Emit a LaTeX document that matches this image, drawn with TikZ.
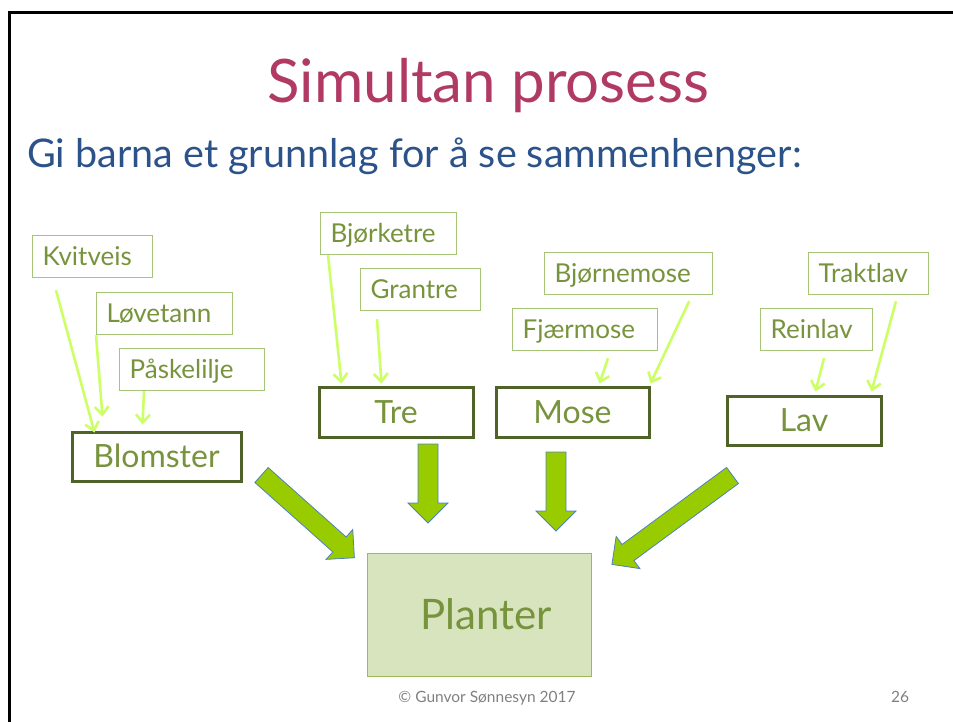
\documentclass[tikz,border=0pt]{standalone}
\usepackage{fontspec}
\setmainfont{Lato}
\usetikzlibrary{arrows.meta}

\definecolor{titlered}{RGB}{176,58,100}
\definecolor{subblue}{RGB}{44,82,138}
\definecolor{leafgreen}{RGB}{119,147,60}
\definecolor{leafline}{RGB}{166,196,120}
\definecolor{groupline}{RGB}{79,98,40}
\definecolor{plantfill}{RGB}{215,228,189}
\definecolor{plantline}{RGB}{155,187,89}
\definecolor{blockfill}{RGB}{153,204,0}
\definecolor{blockline}{RGB}{79,129,189}
\definecolor{twig}{RGB}{204,255,102}

\tikzset{
  leaf/.style={draw=leafline, line width=1.2pt, anchor=north west, minimum height=42pt,
    inner xsep=10pt, align=left, text=leafgreen, font=\fontsize{26}{28}\selectfont,
    text height=18.5pt, text depth=0pt},
  group/.style={draw=groupline, line width=3pt, minimum height=49pt, text=leafgreen,
    font=\fontsize{32}{34}\selectfont, text height=22.5pt, text depth=0pt},
  twigarrow/.style={draw=twig, line width=2.6pt, -{Straight Barb[length=8pt,width=14pt]}},
  bigarrow/.style={fill=blockfill, draw=blockline, line width=0.8pt, line join=miter},
}

\newcommand{\blockarrow}[3]{%
  \begin{scope}[shift={#1}, rotate=#2]
    \draw[bigarrow] (0,-10) -- ({#3-20},-10) -- ({#3-20},-20) -- (#3,0)
      -- ({#3-20},20) -- ({#3-20},10) -- (0,10) -- cycle;
  \end{scope}}

\begin{document}
\begin{tikzpicture}[x=1pt, y=-1pt]
    \useasboundingbox (0,0) rectangle (953,722);

    % Slide frame
    \draw[line width=3pt, black] (9,724) -- (9,13) -- (955,13);

    % Headings
    \node[anchor=base, text=titlered, font=\fontsize{60}{70}\selectfont] (title) at (488.5,103) {Simultan prosess};
    \node[anchor=base west, text=subblue, font=\fontsize{39.5}{44}\selectfont, inner sep=0pt] (subtitle) at (27,168) {Gi barna et grunnlag for å se sammenhenger:};

    % Kinds of plants
    \node[leaf, text width=100pt] (kvitveis) at (32,235) {Kvitveis};
    \node[leaf, text width=116pt] (lovetann) at (96,292) {Løvetann};
    \node[leaf, text width=125pt] (paskelilje) at (119,348) {Påskelilje};
    \node[leaf, text width=116pt] (bjorketre) at (320,212) {Bjørketre};
    \node[leaf, text width=100pt] (grantre) at (360,268) {Grantre};
    \node[leaf, text width=148pt] (bjornemose) at (544,252) {Bjørnemose};
    \node[leaf, text width=125pt] (fjaermose) at (512,308) {Fjærmose};
    \node[leaf, text width=100pt] (traktlav) at (808,252) {Traktlav};
    \node[leaf, text width=92pt] (reinlav) at (760,308) {Reinlav};

    % Groups
    \node[group, minimum width=169pt] (blomster) at (156.5,456.5) {Blomster};
    \node[group, minimum width=154pt, minimum height=50pt] (tre) at (396,412) {Tre};
    \node[group, minimum width=153pt, minimum height=50pt] (mose) at (572.5,412) {Mose};
    \node[group, minimum width=154pt] (lav) at (804,420.5) {Lav};

    \node[draw=plantline, fill=plantfill, line width=1pt, minimum width=224pt, minimum height=123pt,
      text=leafgreen, font=\fontsize{42}{46}\selectfont, text height=30pt, text depth=0pt] (planter) at (479.5,614.5) {\hspace*{14pt}Planter};

    % Thin arrows into the groups
    \draw[twigarrow] ([shift={(24,12)}]kvitveis.south west) -- ([shift={(24,2)}]blomster.north west);
    \draw[twigarrow] (lovetann.south west) -- ([shift={(32,-14)}]blomster.north west);
    \draw[twigarrow] ([shift={(25,0)}]paskelilje.south west) -- ([shift={(72,-6)}]blomster.north west);
    \draw[twigarrow] ([shift={(8,0)}]bjorketre.south west) -- ([shift={(24,-2)}]tre.north west);
    \draw[twigarrow] ([shift={(17,8)}]grantre.south west) -- ([shift={(64,-2)}]tre.north west);
    \draw[twigarrow] ([shift={(96,7)}]fjaermose.south west) -- ([shift={(105,-2)}]mose.north west);
    \draw[twigarrow] ([shift={(-24,6)}]bjornemose.south east) -- ([shift={(0,-2)}]mose.north east);
    \draw[twigarrow] ([shift={(64,7)}]reinlav.south west) -- ([shift={(90,-3)}]lav.north west);
    \draw[twigarrow] ([shift={(88,6)}]traktlav.south west) -- ([shift={(146,-3)}]lav.north west);

    % Block arrows into Planter
    \blockarrow{(261.5,475)}{-41.7}{124.4}
    \blockarrow{(428,444)}{-90}{79}
    \blockarrow{(556,452)}{-90}{79}
    \blockarrow{(732.5,475.5)}{-143.6}{149.8}

    % Footer
    \node[anchor=base, text=gray, font=\fontsize{15.5}{18}\selectfont] (copy) at (487,702) {© Gunvor Sønnesyn 2017};
    \node[anchor=base, text=gray, font=\fontsize{15.5}{18}\selectfont] (page) at (900,702) {26};
\end{tikzpicture}
\end{document}
